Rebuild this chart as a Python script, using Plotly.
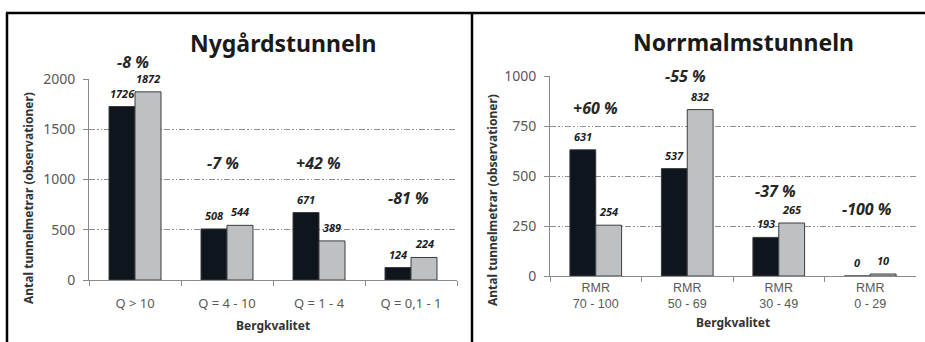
import plotly.graph_objects as go

# Nygårdstunneln – Q-system classes
ny_categories = ["Q > 10", "Q = 4 - 10", "Q = 1 - 4", "Q = 0,1 - 1"]
ny_prognos = [1726, 508, 671, 124]
ny_utfall = [1872, 544, 389, 224]
ny_change = ["-8 %", "-7 %", "+42 %", "-81 %"]
ny_change_y = [2170, 1165, 1165, 815]

# Norrmalmstunneln – RMR classes
no_categories = ["RMR<br>70 - 100", "RMR<br>50 - 69", "RMR<br>30 - 49", "RMR<br>0 - 29"]
no_prognos = [631, 537, 193, 0]
no_utfall = [254, 832, 265, 10]
no_change = ["+60 %", "-55 %", "-37 %", "-100 %"]
no_change_y = [840, 1000, 425, 335]

W, H = 925, 342
BARGAP = 0.435
DARK = "#0e151d"
LIGHT = "#bdc1c3"
EDGE = "#3c3c3c"
AXIS = "#8a8a8a"
TICKTXT = "#595959"
FONT = "Noto Sans"

fig = go.Figure()

panels = [
    dict(cats=ny_categories, a=ny_prognos, b=ny_utfall, chg=ny_change, chg_y=ny_change_y,
         xa="x", ya="y", title="Nygårdstunneln", ymax=2000, dtick=500,
         xdom=[89 / W, 457 / W], ydom=[1 - 280 / H, 1 - 79 / H],
         tx=283, ty=43, ytx=28, yty=198, chg_dx=[-0.02, -0.04, -0.01, -0.03]),
    dict(cats=no_categories, a=no_prognos, b=no_utfall, chg=no_change, chg_y=no_change_y,
         xa="x2", ya="y2", title="Norrmalmstunneln", ymax=1000, dtick=250,
         xdom=[550 / W, 916 / W], ydom=[1 - 276 / H, 1 - 76 / H],
         tx=743, ty=42, ytx=492, yty=200, chg_dx=[0.0, -0.02, -0.04, -0.04]),
]

annotations = []
for p in panels:
    for vals, col in ((p["a"], DARK), (p["b"], LIGHT)):
        fig.add_trace(go.Bar(
            x=p["cats"], y=vals, xaxis=p["xa"], yaxis=p["ya"],
            marker=dict(color=col, line=dict(color=EDGE, width=1)),
            showlegend=False, hoverinfo="skip",
        ))
    bw = (1 - BARGAP) / 2
    px_per_unit = (p["ydom"][1] - p["ydom"][0]) * H / p["ymax"]
    for i in range(len(p["cats"])):
        for vals, dx in ((p["a"], -bw / 2), (p["b"], bw / 2)):
            annotations.append(dict(
                x=i + dx, y=vals[i], xref=p["xa"], yref=p["ya"],
                text=str(vals[i]), showarrow=False, yanchor="bottom", yshift=4,
                font=dict(family=FONT, size=11, color="#1e1e1e", weight="bold", style="italic"),
            ))
        # labels above the axis range are anchored at the top and shifted up
        yv = min(p["chg_y"][i], p["ymax"])
        annotations.append(dict(
            x=i + p["chg_dx"][i], y=yv, xref=p["xa"], yref=p["ya"],
            yshift=(p["chg_y"][i] - yv) * px_per_unit,
            text=p["chg"][i], showarrow=False, yanchor="middle",
            font=dict(family=FONT, size=16, color="#262626", weight="bold", style="italic"),
        ))
    # panel title
    annotations.append(dict(
        x=p["tx"] / W, y=1 - p["ty"] / H, xref="paper", yref="paper",
        text=p["title"], showarrow=False, xanchor="center", yanchor="middle",
        font=dict(family=FONT, size=23, color="#1a1a1a", weight="bold"),
    ))
    # y-axis title
    annotations.append(dict(
        x=p["ytx"] / W, y=1 - p["yty"] / H, xref="paper", yref="paper",
        text="Antal tunnelmetrar (observationer)", showarrow=False, textangle=-90,
        xanchor="center", yanchor="middle",
        font=dict(family=FONT, size=12, color="#333333", weight="bold"),
    ))

for xc, yc in ((273, 325), (733, 322)):
    annotations.append(dict(
        x=xc / W, y=1 - yc / H, xref="paper", yref="paper", text="Bergkvalitet",
        showarrow=False, xanchor="center", yanchor="middle",
        font=dict(family=FONT, size=12, color="#333333", weight="bold"),
    ))

grid = dict(showgrid=True, gridcolor="#8f8f8f", gridwidth=1,
            griddash="6px,2px,1.5px,2px,1.5px,2px", zeroline=False)


def xaxis_cfg(p, font_family, size, standoff):
    return dict(domain=p["xdom"], anchor=p["ya"], type="category", showline=True,
                linecolor=AXIS, linewidth=1, ticks="outside", tickson="boundaries",
                ticklen=5, tickcolor=AXIS, showgrid=False, zeroline=False,
                ticklabelstandoff=standoff, automargin=False,
                tickfont=dict(family=font_family, size=size, color=TICKTXT),
                fixedrange=True)


def yaxis_cfg(p):
    return dict(domain=p["ydom"], anchor=p["xa"], range=[0, p["ymax"]], dtick=p["dtick"],
                showline=True, linecolor=AXIS, linewidth=1, ticks="outside", ticklen=5,
                tickcolor=AXIS, tickfont=dict(family=FONT, size=14, color=TICKTXT),
                ticklabelstandoff=5, automargin=False, fixedrange=True, **grid)


# outer frame lines
shapes = [
    dict(type="line", xref="paper", yref="paper", x0=6 / W, x1=1, y0=1 - 13 / H, y1=1 - 13 / H,
         line=dict(color="black", width=2.5)),
    dict(type="line", xref="paper", yref="paper", x0=7 / W, x1=7 / W, y0=0, y1=1 - 13 / H,
         line=dict(color="black", width=2.5)),
    dict(type="line", xref="paper", yref="paper", x0=472 / W, x1=472 / W, y0=0, y1=1 - 13 / H,
         line=dict(color="black", width=2.5)),
]

fig.update_layout(
    width=W, height=H, autosize=False,
    margin=dict(l=0, r=0, t=0, b=0, pad=0, autoexpand=False),
    paper_bgcolor="white", plot_bgcolor="white",
    barmode="group", bargap=BARGAP, bargroupgap=0,
    xaxis=xaxis_cfg(panels[0], FONT, 13, 11),
    yaxis=yaxis_cfg(panels[0]),
    xaxis2=xaxis_cfg(panels[1], "Liberation Sans", 12.5, 0),
    yaxis2=yaxis_cfg(panels[1]),
    annotations=annotations, shapes=shapes,
)

fig.write_html("out.html")
